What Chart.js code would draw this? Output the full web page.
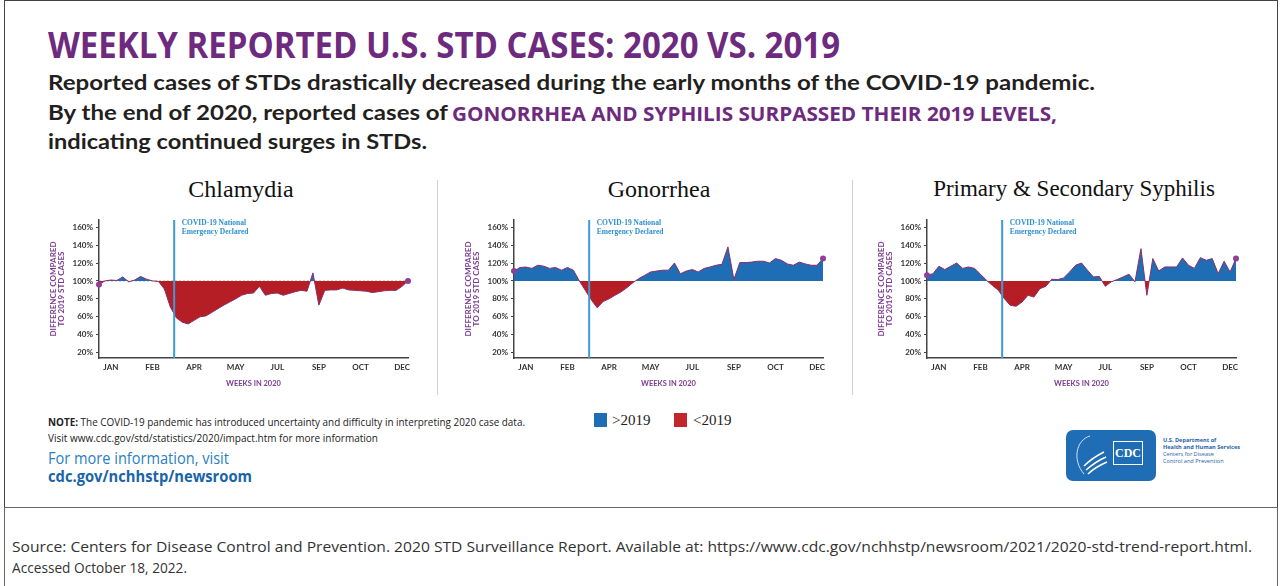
<!DOCTYPE html>
<html>
<head>
<meta charset="utf-8">
<script src="https://cdn.jsdelivr.net/npm/chart.js@4.4.0/dist/chart.umd.min.js"></script>
<style>
body { margin: 0; width: 1284px; height: 586px; overflow: hidden; background: #fff; position: relative; font-family: "Open Sans", sans-serif; }
.abs { position: absolute; white-space: nowrap; line-height: 1; }
.fit { transform-origin: 0 0; }
canvas { position: absolute; }
.purple { color: #6e2a7e; }
</style>
</head>
<body>

<div class="abs" style="left:4px;top:0;width:1272px;height:506px;border:1.5px solid #444;"></div>
<div class="abs" style="left:4px;top:507px;width:1272px;height:100px;border:1px solid #666;"></div>

<div class="abs fit purple" data-w="792" style="left:48px;top:20px;font:700 36px 'Liberation Sans Narrow','Open Sans',sans-serif;">WEEKLY REPORTED U.S. STD CASES: 2020 VS. 2019</div>
<div class="abs fit" data-w="1047" style="left:48px;top:69px;font:700 21px Lato,sans-serif;color:#231f20;">Reported cases of STDs drastically decreased during the early months of the COVID-19 pandemic.</div>
<div class="abs fit" data-w="400" style="left:48px;top:99px;font:700 21px Lato,sans-serif;color:#231f20;">By the end of 2020, reported cases of</div>
<div class="abs fit purple" data-w="605" style="left:452px;top:100px;font:700 20px 'Liberation Sans Narrow','Open Sans',sans-serif;">GONORRHEA AND SYPHILIS SURPASSED THEIR 2019 LEVELS,</div>
<div class="abs fit" data-w="379" style="left:48px;top:128px;font:700 21px Lato,sans-serif;color:#231f20;">indicating continued surges in STDs.</div>

<div class="abs" style="left:141px;top:176px;width:200px;text-align:center;font:24px 'Liberation Serif',serif;color:#111;">Chlamydia</div>
<div class="abs" style="left:559px;top:176px;width:200px;text-align:center;font:24px 'Liberation Serif',serif;color:#111;">Gonorrhea</div>
<div class="abs" style="left:924px;top:176px;width:300px;text-align:center;font:23px 'Liberation Serif',serif;color:#111;">Primary &amp; Secondary Syphilis</div>

<div class="abs" style="left:437px;top:180px;width:1px;height:215px;background:#d0d0d0;"></div>
<div class="abs" style="left:852px;top:180px;width:1px;height:215px;background:#d0d0d0;"></div>

<canvas id="c1" width="370" height="185" style="left:44px;top:210px;"></canvas>
<canvas id="c2" width="370" height="185" style="left:459px;top:210px;"></canvas>
<canvas id="c3" width="370" height="185" style="left:872px;top:210px;"></canvas>

<div class="abs" style="left:594px;top:413px;width:13px;height:14px;background:#1f6db4;"></div>
<div class="abs" style="left:612px;top:412px;font:15px 'Liberation Serif',serif;color:#222;">&gt;2019</div>
<div class="abs" style="left:674px;top:413px;width:13px;height:14px;background:#c0282d;"></div>
<div class="abs" style="left:693px;top:412px;font:15px 'Liberation Serif',serif;color:#222;">&lt;2019</div>

<div class="abs fit" data-w="477" style="left:48px;top:415px;font:10px 'Open Sans',sans-serif;color:#222;"><b>NOTE:</b> The COVID-19 pandemic has introduced uncertainty and difficulty in interpreting 2020 case data.</div>
<div class="abs fit" data-w="330" style="left:48px;top:431px;font:10px 'Open Sans',sans-serif;color:#222;">Visit www.cdc.gov/std/statistics/2020/impact.htm for more information</div>
<div class="abs fit" data-w="181" style="left:48px;top:447px;font:16px 'Open Sans',sans-serif;color:#2a80c2;">For more information, visit</div>
<div class="abs fit" data-w="204" style="left:48px;top:465px;font:700 16px 'Open Sans',sans-serif;color:#1a64a8;">cdc.gov/nchhstp/newsroom</div>

<div class="abs" style="left:1066px;top:430px;width:90px;height:51px;background:#1f6db4;border-radius:7px;overflow:hidden;">
  <svg width="90" height="51" style="position:absolute;left:0;top:0">
    <path d="M24 6 C10 10 6 30 18 44" stroke="#cfe2f5" stroke-width="1" fill="none"/>
    <path d="M18 36 C24 30 30 26 38 22 M20 40 C27 34 33 30 40 27 M22 44 C28 38 34 35 41 32" stroke="#fff" stroke-width="1.6" fill="none"/>
  </svg>
  <div class="abs" style="left:47px;top:11px;width:28px;height:22px;border:1.5px solid #fff;font:700 12px 'Liberation Serif',serif;color:#fff;text-align:center;line-height:22px;">CDC</div>
</div>
<div class="abs" style="left:1163px;top:437px;font:5.6px 'Open Sans',sans-serif;color:#1f5fa8;line-height:7px;"><b>U.S. Department of<br>Health and Human Services</b><br>Centers for Disease<br>Control and Prevention</div>

<div class="abs fit" data-w="1240" style="left:12px;top:537px;font:14px 'Open Sans',sans-serif;color:#333;">Source: Centers for Disease Control and Prevention. 2020 STD Surveillance Report. Available at: https://www.cdc.gov/nchhstp/newsroom/2021/2020-std-trend-report.html.</div>
<div class="abs fit" data-w="175" style="left:12px;top:558px;font:14px 'Open Sans',sans-serif;color:#333;">Accessed October 18, 2022.</div>

<script>
// weekly reported cases in 2020 as % of the same week in 2019
var chlamydia = [96, 100, 101, 100.5, 104.5, 99, 101, 105, 102, 100, 99.5, 91, 71, 59, 54, 52, 56, 60, 61, 65,
    69, 73, 76.5, 80, 84, 86, 86.5, 94, 84, 86, 86.5, 84, 86, 88, 89.5, 88.5, 109, 73, 89.5, 90,
    90, 92, 90, 89.5, 89, 88.5, 87, 88, 89, 89.5, 89.5, 94, 100];
var gonorrhea = [111, 115, 115.5, 114, 117.5, 116.5, 114, 115, 112, 115, 112, 100, 89.5, 79, 70, 77, 80, 84, 87.7, 92.5,
    98, 102.6, 106.3, 110, 111, 112, 112, 120, 108, 111, 112.7, 110, 114, 115.6, 117.5, 118.6, 138, 101.5, 120.5, 120.5,
    121, 122, 122, 120, 125, 123, 119, 117.5, 121, 119, 117.5, 117.5, 125];
var syphilis = [106.3, 108, 116.4, 112.7, 116.4, 120, 114, 115.6, 114, 107.5, 100.7, 95, 89.6, 80.3, 72.8, 71.7, 76.5, 84, 82, 91.4,
    94, 101.9, 101.5, 103.4, 110, 117.5, 120, 112, 104.5, 105, 94, 99, 101.5, 104.5, 107.5, 99, 136, 84, 125, 111,
    115.6, 115.6, 115.6, 125.7, 117.5, 114, 126, 123, 125, 108, 122, 110, 125];

var monthTicks = ['JAN', 'FEB', 'APR', 'MAY', 'JUL', 'SEP', 'OCT', 'DEC'];
var monthTickWeeks = [2, 9, 16, 23, 30, 37, 44, 51];
var yTicks = [20, 40, 60, 80, 100, 120, 140, 160];
var emergencyWeek = 12.65;

var weeks = chlamydia.map(function (v, i) { return 'Week ' + (i + 1); });

var purple = '#7b3a8f';

function fitText() {
    var els = document.querySelectorAll('.fit');
    for (var i = 0; i < els.length; i++) {
        var w = els[i].getBoundingClientRect().width;
        els[i].style.transform = 'scaleX(' + (parseFloat(els[i].dataset.w) / w) + ')';
    }
}
fitText();

var emergencyLine = {
    id: 'emergencyLine',
    beforeDatasetsDraw: function (chart, args, opts) {
        if (!opts.dashed) return;
        var ctx = chart.ctx, area = chart.chartArea;
        var y = chart.scales.y.getPixelForValue(100);
        ctx.save();
        ctx.strokeStyle = '#999';
        ctx.lineWidth = 0.8;
        ctx.setLineDash([2, 2]);
        ctx.beginPath();
        ctx.moveTo(area.left, y);
        ctx.lineTo(area.right, y);
        ctx.stroke();
        ctx.restore();
    },
    afterDatasetsDraw: function (chart) {
        var ctx = chart.ctx, area = chart.chartArea;
        var x = chart.scales.x.getPixelForValue(emergencyWeek);
        ctx.save();
        ctx.strokeStyle = '#3d9ad6';
        ctx.lineWidth = 2;
        ctx.beginPath();
        ctx.moveTo(x, area.top);
        ctx.lineTo(x, area.bottom);
        ctx.stroke();
        ctx.fillStyle = '#2f8fd0';
        ctx.font = 'bold 7.5px "Liberation Serif", serif';
        ctx.textBaseline = 'middle';
        ctx.fillText('COVID-19 National', x + 7.5, area.top + 3.5);
        ctx.fillText('Emergency Declared', x + 7.5, area.top + 12.5);
        ctx.restore();
    }
};

function createChart(id, values, dashed) {
    var last = values.length - 1;
    return new Chart(document.getElementById(id), {
        type: 'line',
        data: {
            labels: weeks,
            datasets: [{
                data: values,
                borderColor: '#8a2d6a',
                borderWidth: 1,
                tension: 0,
                fill: { target: { value: 100 }, above: '#1f6db4', below: '#b51e24' },
                pointRadius: values.map(function (v, i) { return (i === 0 || i === last) ? 3 : 0; }),
                pointBackgroundColor: '#8e3f96',
                pointBorderWidth: 0
            }]
        },
        options: {
            responsive: false,
            animation: false,
            layout: { padding: { top: 10, right: 6, left: 0, bottom: 0 } },
            scales: {
                x: {
                    type: 'category',
                    afterFit: function (s) { s.height = 37; },
                    grid: { drawOnChartArea: false, drawTicks: false },
                    border: { display: true, color: '#444', width: 1.5 },
                    ticks: {
                        autoSkip: false,
                        maxRotation: 0,
                        padding: 5,
                        color: '#333',
                        font: { family: 'Lato', weight: 'bold', size: 8 },
                        callback: function (val, index) {
                            var k = monthTickWeeks.indexOf(index);
                            return k >= 0 ? monthTicks[k] : '';
                        }
                    },
                    title: {
                        display: true,
                        text: 'WEEKS IN 2020',
                        color: purple,
                        font: { family: 'Lato', weight: 'bold', size: 7.5, lineHeight: 1.1 },
                        padding: { top: 0, bottom: 7.6 }
                    }
                },
                y: {
                    min: 14,
                    max: 168,
                    afterFit: function (s) { s.width = 55; },
                    afterBuildTicks: function (s) { s.ticks = yTicks.map(function (v) { return { value: v }; }); },
                    grid: { drawOnChartArea: false, drawTicks: true, tickLength: 3, color: '#444' },
                    border: { display: true, color: '#444', width: 1.5 },
                    ticks: {
                        padding: 3,
                        color: '#333',
                        font: { family: 'Lato', weight: 'bold', size: 8 },
                        callback: function (v) { return v + '%'; }
                    },
                    title: {
                        display: true,
                        text: ['DIFFERENCE COMPARED', 'TO 2019 STD CASES'],
                        color: purple,
                        font: { family: 'Lato', weight: 'bold', size: 8, lineHeight: 1.1 },
                        padding: { top: 4.6, bottom: 0 }
                    }
                }
            },
            plugins: {
                legend: { display: false },
                tooltip: { enabled: false },
                emergencyLine: { dashed: dashed }
            }
        },
        plugins: [emergencyLine]
    });
}

createChart('c1', chlamydia, true);
createChart('c2', gonorrhea, false);
createChart('c3', syphilis, false);
</script>
</body>
</html>
